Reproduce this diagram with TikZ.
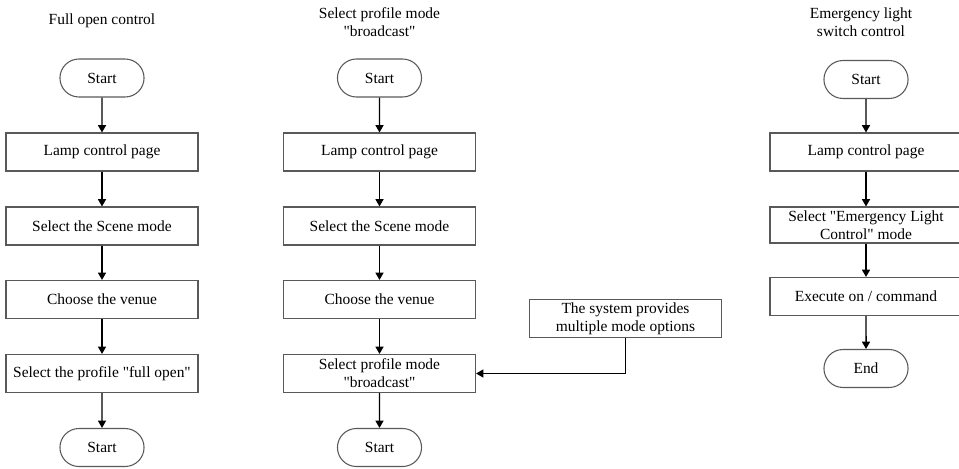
\documentclass[tikz,border=0pt]{standalone}
\usepackage{fontspec}
\setmainfont{Liberation Serif}
\usetikzlibrary{shapes.misc,arrows.meta}

\begin{document}
\begin{tikzpicture}[x=0.75pt,y=-0.75pt,
        font=\fontsize{11.6}{13.5}\selectfont,
        box/.style={draw=black!65, line width=0.8pt, minimum width=144pt, minimum height=28.5pt, inner sep=1pt, align=center},
        term/.style={rounded rectangle, draw=black!65, line width=0.8pt, minimum width=69.75pt, minimum height=28.5pt},
        flow/.style={-{Triangle[length=5.5pt,width=6pt]}, line width=1.1pt}]
        \useasboundingbox (0,0) rectangle (959,468);
        % left column
        \node (titleA) at (102,21) {Full open control};
        \node[term] (startA) at (102,78) {Start};
        \node[box] (lampA) at (102,152) {Lamp control page};
        \node[box] (sceneA) at (102,226) {Select the Scene mode};
        \node[box] (venueA) at (102,299.5) {Choose the venue};
        \node[box] (profA) at (102,373.5) {Select the profile \textquotedbl full open\textquotedbl};
        \node[term] (endA) at (102,447.5) {Start};
        \draw[flow] (startA) -- (lampA);
        \draw[flow] (lampA) -- (sceneA);
        \draw[flow] (sceneA) -- (venueA);
        \draw[flow] (venueA) -- (profA);
        \draw[flow] (profA) -- (endA);
        % middle column
        \node[align=center] (titleB) at (379.5,22) {Select profile mode\\\textquotedbl broadcast\textquotedbl};
        \node[term] (startB) at (379.5,78) {Start};
        \node[box] (lampB) at (379.5,152) {Lamp control page};
        \node[box] (sceneB) at (379.5,226) {Select the Scene mode};
        \node[box] (venueB) at (379.5,299.5) {Choose the venue};
        \node[box] (profB) at (379.5,373.5) {Select profile mode\\\textquotedbl broadcast\textquotedbl};
        \node[term] (endB) at (379.5,447.5) {Start};
        \node[box] (optsB) at (625.5,318.5) {The system provides\\multiple mode options};
        \draw[flow] (startB) -- (lampB);
        \draw[flow] (lampB) -- (sceneB);
        \draw[flow] (sceneB) -- (venueB);
        \draw[flow] (venueB) -- (profB);
        \draw[flow] (profB) -- (endB);
        \draw[flow] (optsB.south) |- (profB.east);
        % right column
        \node[align=center] (titleC) at (861,22.5) {Emergency light\\switch control};
        \node[term] (startC) at (866,79.5) {Start};
        \node[box] (lampC) at (866,152) {Lamp control page};
        \node[box, minimum height=27pt] (emerC) at (866,225) {Select \textquotedbl Emergency Light\\Control\textquotedbl\ mode};
        \node[box] (execC) at (866,296.5) {Execute on / command};
        \node[term] (endC) at (866,368.5) {End};
        \draw[flow] (startC) -- (lampC);
        \draw[flow] (lampC) -- (emerC);
        \draw[flow] (emerC) -- (execC);
        \draw[flow] (execC) -- (endC);
\end{tikzpicture}
\end{document}
